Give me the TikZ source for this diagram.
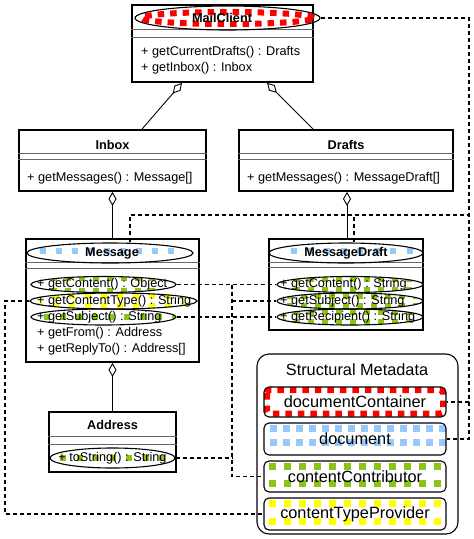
\documentclass[tikz,border=0pt]{standalone}
\usepackage{fontspec}
\setmainfont{Liberation Sans}
\usetikzlibrary{arrows.meta,shapes.geometric}
\definecolor{hlred}{RGB}{255,0,0}
\definecolor{hlblue}{RGB}{150,200,250}
\definecolor{hlgreen}{RGB}{140,195,25}
\definecolor{hlyellow}{RGB}{255,255,0}
\def\sqh{3}
\newcommand\hlsq[5]{\foreach \yy in {#5}{\foreach \xx in {#2,#3,...,#4}{\fill[#1] (\xx-\sqh,\yy-\sqh) rectangle (\xx+\sqh,\yy+\sqh);}}}
\begin{document}
\begin{tikzpicture}[x=1pt,y=-1pt,
  cls/.style={draw, line width=1.8pt, fill=white, rectangle, inner sep=0pt},
  sepl/.style={draw=black!60, line width=1pt},
  hel/.style={draw, ellipse, line width=1.1pt, inner sep=0pt},
  ttl/.style={font=\fontsize{12.7}{14}\selectfont\bfseries, inner sep=0pt},
  mth/.style={font=\fontsize{12.7}{14}\selectfont, inner sep=0pt, anchor=west},
  mthc/.style={font=\fontsize{12.7}{14}\selectfont, inner sep=0pt},
  agg/.style={line width=0.9pt, {Diamond[open,length=14pt,width=8pt]}-},
  dl/.style={line width=1.1pt, dash pattern=on 4pt off 3pt},
  metabox/.style={draw, rounded corners=5pt, line width=1.1pt, minimum width=182pt, inner sep=0pt, font=\fontsize{16.3}{18}\selectfont},
  reddash/.style={hlred, line width=6pt, dash pattern=on 6.5pt off 6pt},
]
\useasboundingbox (0,0) rectangle (474,539);

% ---------- class boxes ----------
\node[cls, minimum width=181pt, minimum height=77pt] (mc) at (222.5,43.5) {};
\node[cls, minimum width=187pt, minimum height=61pt] (inbox) at (112.5,160.5) {};
\node[cls, minimum width=214pt, minimum height=61pt] (drafts) at (346,160.5) {};
\node[cls, minimum width=173pt, minimum height=123pt] (msg) at (112.5,300.5) {};
\node[cls, minimum width=154pt, minimum height=91pt] (mdraft) at (346,284.5) {};
\node[cls, minimum width=127pt, minimum height=60pt] (addr) at (112.5,442) {};

% separators
\foreach \n/\a/\b in {mc/25/33, inbox/24/30, drafts/24/30, msg/24/30, mdraft/24/29, addr/25/33}{
  \draw[sepl] ([yshift=-\a pt]\n.north west) -- ([yshift=-\a pt]\n.north east);
  \draw[sepl] ([yshift=-\b pt]\n.north west) -- ([yshift=-\b pt]\n.north east);
}

% ---------- highlight patterns ----------
% MailClient header (red)
\begin{scope}
  \clip (227.5,18) ellipse [x radius=92.5pt, y radius=12pt];
  \draw[reddash] (227.5,18) ellipse [x radius=86pt, y radius=6pt];
\end{scope}
% Message header (blue)
\begin{scope}
  \clip (110,253) ellipse [x radius=83pt, y radius=10pt];
  \hlsq{hlblue}{43}{59}{180}{251}
\end{scope}
% MessageDraft header (blue)
\begin{scope}
  \clip (346,253) ellipse [x radius=77pt, y radius=10pt];
  \hlsq{hlblue}{294}{310.5}{412}{251}
\end{scope}
% Message getContent (green)
\begin{scope}
  \clip (103.5,284.5) ellipse [x radius=72.5pt, y radius=8pt];
  \hlsq{hlgreen}{40}{54}{175}{278,291}
\end{scope}
% Message getContentType (yellow)
\begin{scope}
  \clip (113.5,301) ellipse [x radius=83.5pt, y radius=8pt];
  \hlsq{hlyellow}{40}{56}{198}{296,306}
\end{scope}
% Message getSubject (green)
\begin{scope}
  \clip (103.5,317) ellipse [x radius=72.5pt, y radius=8pt];
  \hlsq{hlgreen}{47}{63}{178}{317}
\end{scope}
% MessageDraft methods (green)
\begin{scope}
  \clip (350,284.5) ellipse [x radius=73pt, y radius=8pt];
  \hlsq{hlgreen}{283}{297}{422}{279,290}
\end{scope}
\begin{scope}
  \clip (350,301) ellipse [x radius=73pt, y radius=8pt];
  \hlsq{hlgreen}{290}{304}{422}{296,306}
\end{scope}
\begin{scope}
  \clip (350,317) ellipse [x radius=73pt, y radius=8pt];
  \hlsq{hlgreen}{283}{297}{422}{312,322}
\end{scope}
% Address toString (green)
\begin{scope}
  \clip (112.5,458) ellipse [x radius=62.5pt, y radius=10pt];
  \hlsq{hlgreen}{63}{79.5}{176}{458}
\end{scope}

% ---------- ellipses ----------
\node[hel, minimum width=185pt, minimum height=24pt] (mch) at (227.5,18) {};
\node[hel, minimum width=166pt, minimum height=20pt] (mh) at (110,253) {};
\node[hel, minimum width=154pt, minimum height=20pt] (mdh) at (346,253) {};
\node[hel, minimum width=145pt, minimum height=16pt] (mgc) at (103.5,284.5) {};
\node[hel, minimum width=167pt, minimum height=16pt] (mgt) at (113.5,301) {};
\node[hel, minimum width=145pt, minimum height=16pt] (mgs) at (103.5,317) {};
\node[hel, minimum width=146pt, minimum height=16pt] (mdgc) at (350,284.5) {};
\node[hel, minimum width=146pt, minimum height=16pt] (mdgs) at (350,301) {};
\node[hel, minimum width=146pt, minimum height=16pt] (mdgr) at (350,317) {};
\node[hel, minimum width=125pt, minimum height=20pt] (ats) at (112.5,458) {};

% ---------- texts ----------
\node[ttl] (mct) at (222,18) {MailClient};
\node[mth] (mcm1) at (141,52) {+ getCurrentDrafts() : Drafts};
\node[mth] (mcm2) at (141,68) {+ getInbox() : Inbox};
\node[ttl] (inboxt) at (112.5,145) {Inbox};
\node[mth] (inboxm) at (27,178) {+ getMessages() : Message[]};
\node[ttl] (draftst) at (346,145) {Drafts};
\node[mth] (draftsm) at (247,178) {+ getMessages() : MessageDraft[]};
\node[ttl] (msgt) at (112,253) {Message};
\node[mth] (msgm1) at (37,284.5) {+ getContent() : Object};
\node[mth] (msgm2) at (37,301) {+ getContentType() : String};
\node[mth] (msgm3) at (37,317) {+ getSubject() : String};
\node[mth] (msgm4) at (37,333) {+ getFrom() : Address};
\node[mth] (msgm5) at (37,349) {+ getReplyTo() : Address[]};
\node[ttl] (mdraftt) at (346,253) {MessageDraft};
\node[mth] (mdm1) at (280,284.5) {+ getContent() : String};
\node[mth] (mdm2) at (280,301) {+ getSubject() : String};
\node[mth] (mdm3) at (280,317) {+ getRecipient() : String};
\node[ttl] (addrt) at (112.5,425) {Address};
\node[mthc] (addrm) at (112.5,458) {+ toString() : String};

% ---------- structural metadata ----------
\node[draw, rounded corners=12pt, line width=1.1pt, minimum width=201pt, minimum height=180pt] (sm) at (357.5,444) {};
\node[font=\fontsize{16.3}{18}\selectfont, inner sep=0pt] (smt) at (357,370) {Structural Metadata};
\def\sqh{3.5}
\begin{scope}
  \clip[rounded corners=5pt] (264,387) rectangle (446,417);
  \draw[reddash, rounded corners=3pt] (267,390) rectangle (443,413.5);
\end{scope}
\begin{scope}
  \clip[rounded corners=5pt] (264,423) rectangle (446,455);
  \hlsq{hlblue}{273}{286}{445}{428,442}
\end{scope}
\begin{scope}
  \clip[rounded corners=5pt] (264,461) rectangle (446,492);
  \hlsq{hlgreen}{272}{287}{445}{466,483}
\end{scope}
\begin{scope}
  \clip[rounded corners=5pt] (264,498) rectangle (446,530);
  \hlsq{hlyellow}{272}{287}{445}{503,521}
\end{scope}
\node[metabox, minimum height=30pt] (dc) at (355,402) {documentContainer};
\node[metabox, minimum height=32pt] (doc) at (355,439) {document};
\node[metabox, minimum height=31pt] (ccn) at (355,476.5) {contentContributor};
\node[metabox, minimum height=32pt] (ctp) at (355,514) {contentTypeProvider};

% ---------- aggregation connectors ----------
\draw[agg] ([xshift=-40.5pt]mc.south) -- ([xshift=29.5pt]inbox.north);
\draw[agg] ([xshift=44.5pt]mc.south) -- ([xshift=-33pt]drafts.north);
\draw[agg] (inbox.south) -- (msg.north);
\draw[agg] ([xshift=1pt]drafts.south) -- ([xshift=1pt]mdraft.north);
\draw[agg] (msg.south) -- (addr.north);

% ---------- dashed metadata connectors ----------
\coordinate (rA) at (469,18);
\coordinate (tB) at (130,215);
\coordinate (rB) at (469,215);
\coordinate (tB2) at (354,215);
\coordinate (bus) at (232,284.5);
\coordinate (lD) at (5,301);
\draw[dl] (mch.east) -- (rA) |- (dc.east);
\draw[dl] (tB |- mh.north) -- (tB) -- (rB) |- (doc.east);
\draw[dl] (tB2 |- mdh.north) -- (tB2);
\draw[dl] (mgc.east) -- (mdgc.west);
\draw[dl] (bus) |- (ccn.west);
\draw[dl] (bus |- mdgs.west) -- (mdgs.west);
\draw[dl] (mgs.east) -- (mdgr.west);
\draw[dl] (ats.east) -- (ats.east -| bus);
\draw[dl] (mgt.west) -- (lD) |- (ctp.west);
\end{tikzpicture}
\end{document}
